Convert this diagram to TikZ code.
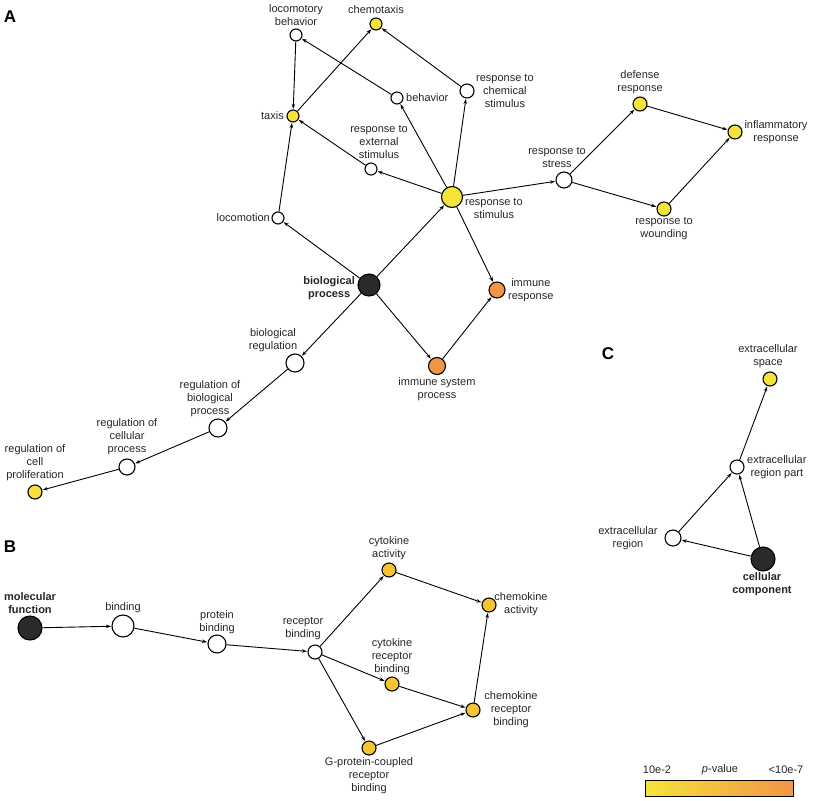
\documentclass[tikz,border=0pt]{standalone}
\usepackage{fontspec}
\setmainfont{Liberation Sans}
\usetikzlibrary{arrows.meta}
\definecolor{yel}{HTML}{F5E33A}
\definecolor{yel2}{HTML}{F4C531}
\definecolor{org}{HTML}{F29547}
\definecolor{blk}{HTML}{2A2A2A}
\begin{document}
\begin{tikzpicture}[x=1pt,y=-1pt,
  gnode/.style={circle,draw=black,line width=1.1pt,inner sep=0pt},
  lbl/.style={font=\fontsize{11}{13}\selectfont,align=center,inner sep=0pt,text=black!85},
  bl/.style={lbl,font=\fontsize{11}{13}\selectfont\bfseries},
  edge/.style={-{Stealth[length=5pt,width=3.5pt]},line width=0.9pt,shorten >=0.5pt}]
\useasboundingbox (0,0) rectangle (813,800);
\newcommand{\gn}[5]{\node[gnode,minimum size=#4*2pt,fill=#5] (#1) at (#2,#3) {};}
% A
\gn{bp}{369}{285}{11}{blk}
\gn{loc}{278}{218}{6}{white}
\gn{taxis}{293}{116}{6}{yel}
\gn{lb}{296}{35}{6}{white}
\gn{chem}{376}{24}{6}{yel}
\gn{beh}{397}{98}{6}{white}
\gn{rcs}{467}{91}{7}{white}
\gn{res}{371}{169}{6}{white}
\gn{rs}{452}{197}{10.5}{yel}
\gn{ir}{497}{290}{8}{org}
\gn{isp}{437}{366}{8.5}{org}
\gn{rst}{564}{180}{8}{white}
\gn{def}{640}{104}{7}{yel}
\gn{inf}{735}{132}{7}{yel}
\gn{wou}{664}{209}{7}{yel}
\gn{br}{295}{363}{9}{white}
\gn{rbp}{218}{428}{9}{white}
\gn{rcp}{127}{467}{8}{white}
\gn{rpr}{35}{492}{7}{yel}
% B
\gn{mf}{30}{628}{12}{blk}
\gn{bind}{123}{626}{11}{white}
\gn{pb}{217}{644}{9}{white}
\gn{rb}{315}{652}{7}{white}
\gn{ca}{389}{570}{7}{yel2}
\gn{cha}{489}{605}{7}{yel2}
\gn{crb}{392}{684}{7}{yel2}
\gn{chrb}{473}{710}{7}{yel2}
\gn{gp}{369}{748}{7}{yel2}
% C
\gn{cc}{763}{559}{12}{blk}
\gn{er}{673}{538}{8}{white}
\gn{erp}{737}{467}{7}{white}
\gn{es}{770}{379}{7}{yel}
% edges
\foreach \a/\b in {bp/loc,bp/rs,bp/br,bp/isp,loc/taxis,lb/taxis,taxis/chem,beh/lb,rcs/chem,rs/beh,rs/rcs,rs/res,res/taxis,rs/rst,rs/ir,isp/ir,rst/def,rst/wou,def/inf,wou/inf,br/rbp,rbp/rcp,rcp/rpr,
mf/bind,bind/pb,pb/rb,rb/ca,rb/crb,rb/gp,ca/cha,crb/chrb,gp/chrb,chrb/cha,
cc/er,cc/erp,er/erp,erp/es}
  \draw[edge] (\a) -- (\b);
% labels
\node[lbl] at (296,15) {locomotory\\behavior};
\node[lbl] at (376,10) {chemotaxis};
\node[lbl,anchor=west] at (406,98) {behavior};
\node[lbl,anchor=west] at (476,91) {response to\\chemical\\stimulus};
\node[lbl,anchor=east] at (284,116) {taxis};
\node[lbl] at (379,142) {response to\\external\\stimulus};
\node[lbl,anchor=east] at (270,218) {locomotion};
\node[lbl,anchor=west] at (465,208) {response to\\stimulus};
\node[bl,anchor=east] at (355,288) {biological\\process};
\node[lbl,anchor=west] at (508,290) {immune\\response};
\node[lbl] at (437,389) {immune system\\process};
\node[lbl] at (557,157) {response to\\stress};
\node[lbl] at (640,82) {defense\\response};
\node[lbl] at (776,132) {inflammatory\\response};
\node[lbl] at (664,229) {response to\\wounding};
\node[lbl] at (273,340) {biological\\regulation};
\node[lbl] at (210,399) {regulation of\\biological\\process};
\node[lbl] at (127,437) {regulation of\\cellular\\process};
\node[lbl] at (35,463) {regulation of\\cell\\proliferation};
\node[bl] at (30,603) {molecular\\function};
\node[lbl] at (123,608) {binding};
\node[lbl] at (217,622) {protein\\binding};
\node[lbl] at (303,629) {receptor\\binding};
\node[lbl] at (389,548) {cytokine\\activity};
\node[lbl] at (521,604) {chemokine\\activity};
\node[lbl] at (392,657) {cytokine\\receptor\\binding};
\node[lbl] at (511,710) {chemokine\\receptor\\binding};
\node[lbl] at (369,776) {G-protein-coupled\\receptor\\binding};
\node[lbl] at (768,356) {extracellular\\space};
\node[lbl,anchor=west] at (747,467) {extracellular\\region part};
\node[lbl] at (628,538) {extracellular\\region};
\node[bl] at (762,584) {cellular\\component};
% panel letters
\node[font=\fontsize{17}{17}\selectfont\bfseries] (lA) at (10,17) {A};
\node[font=\fontsize{17}{17}\selectfont\bfseries] (lB) at (10,547) {B};
\node[font=\fontsize{17}{17}\selectfont\bfseries] (lC) at (608,354) {C};
% legend
\shade[left color=yel,right color=org] (645,780) rectangle (793,796);
\draw[line width=0.8pt] (645,780) rectangle (793,796);
\node[lbl] (l1) at (657,770) {10e-2};
\node[lbl] (l2) at (720,770) {\textit{p}-value};
\node[lbl] (l3) at (786,770) {<10e-7};
\end{tikzpicture}
\end{document}
